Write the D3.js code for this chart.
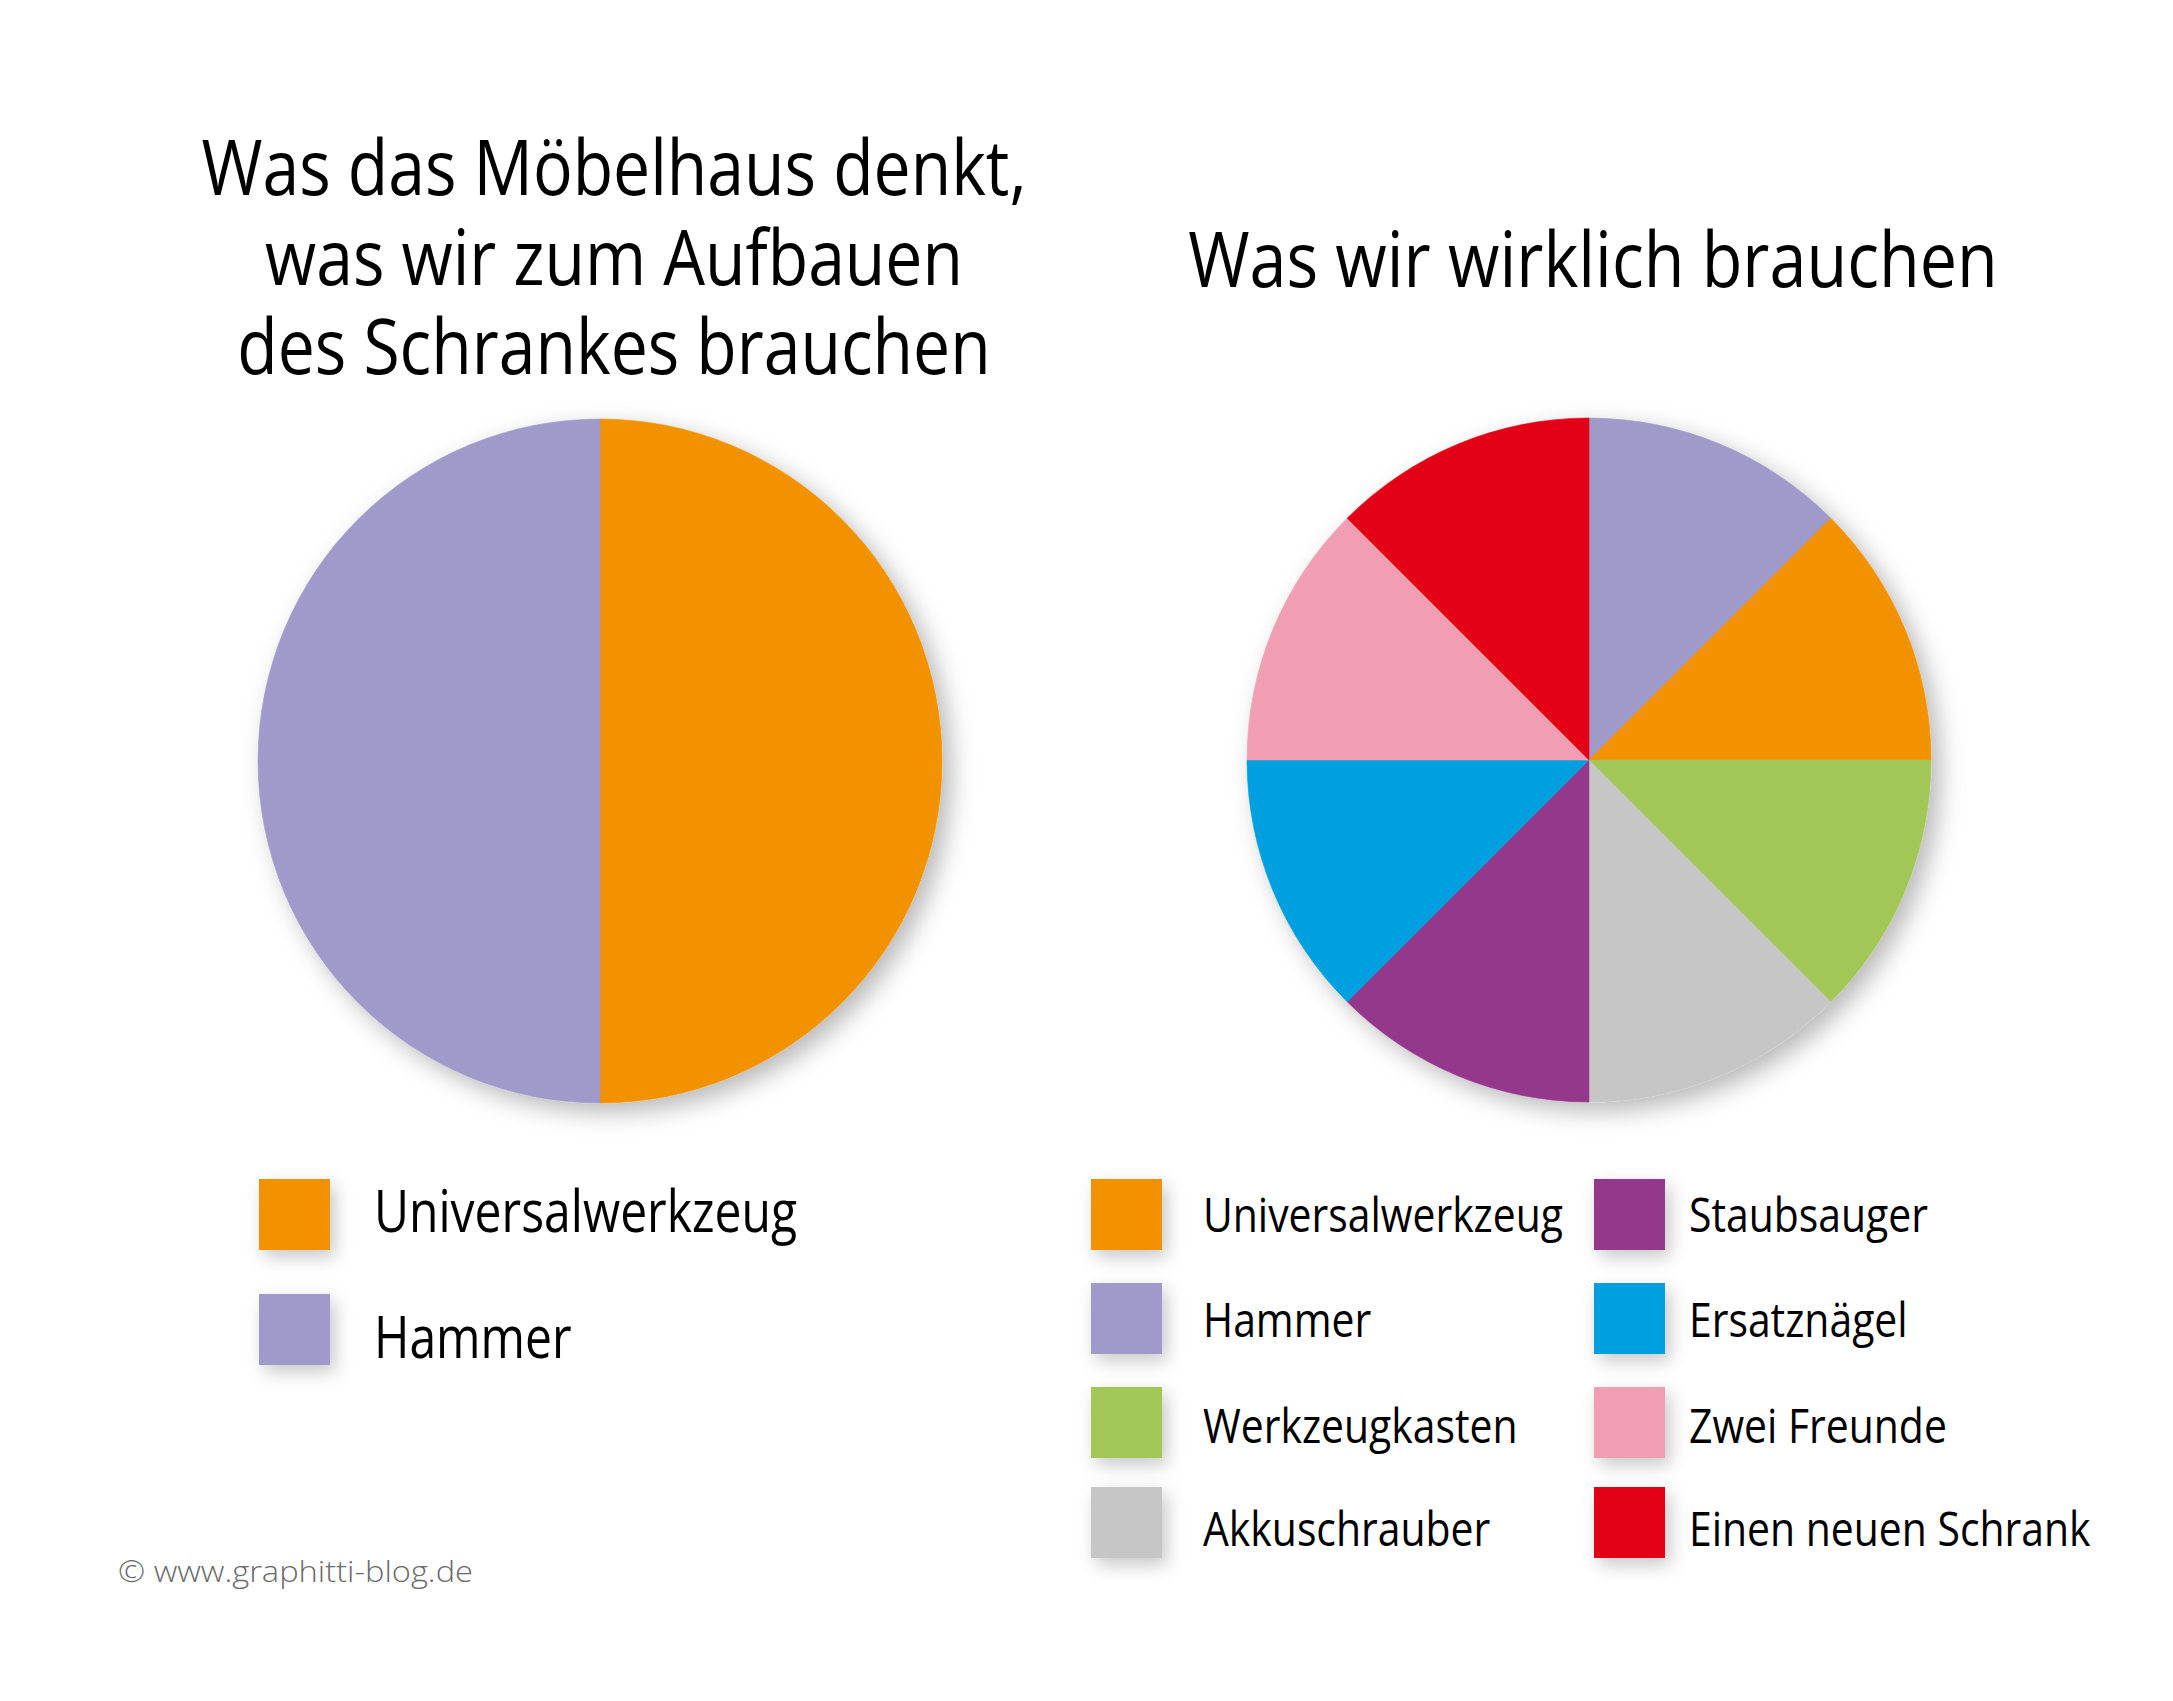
<!DOCTYPE html>
<html><head><meta charset="utf-8">
<script src="https://cdn.jsdelivr.net/npm/d3@7"></script>
<style>body{margin:0;background:#fff}</style>
</head><body>
<script>
// ---- data ----
const leftTitle = ["Was das Möbelhaus denkt,", "was wir zum Aufbauen", "des Schrankes brauchen"];
const rightTitle = ["Was wir wirklich brauchen"];
const leftCategories = ["Universalwerkzeug", "Hammer"];
const leftValues = [1, 1];
const rightCategories = ["Hammer", "Universalwerkzeug", "Werkzeugkasten", "Akkuschrauber",
  "Staubsauger", "Ersatznägel", "Zwei Freunde", "Einen neuen Schrank"];
const rightValues = [1, 1, 1, 1, 1, 1, 1, 1];
const legendLeft = ["Universalwerkzeug", "Hammer"];
const legendRight = ["Universalwerkzeug", "Hammer", "Werkzeugkasten", "Akkuschrauber",
  "Staubsauger", "Ersatznägel", "Zwei Freunde", "Einen neuen Schrank"];
const credit = "© www.graphitti-blog.de";
const palette = ["#F39200", "#A09ACA", "#A3C756", "#C6C6C6", "#93398B", "#009FE0", "#F19DB4", "#E30613"];

// ---- setup ----
const W = 2173, H = 1701;
const FONT = "'Open Sans', 'Noto Sans', sans-serif";
const color = d3.scaleOrdinal().domain(legendRight).range(palette);

const svg = d3.select("body").append("svg").attr("width", W).attr("height", H)
  .style("font-family", FONT);
svg.append("rect").attr("width", W).attr("height", H).attr("fill", "#fff");

const defs = svg.append("defs");
const f1 = defs.append("filter").attr("id", "pieShadow")
  .attr("x", "-20%").attr("y", "-20%").attr("width", "150%").attr("height", "150%");
f1.append("feDropShadow").attr("dx", 9).attr("dy", 9).attr("stdDeviation", 12)
  .attr("flood-color", "#000").attr("flood-opacity", 0.28);
const f2 = defs.append("filter").attr("id", "boxShadow")
  .attr("x", "-60%").attr("y", "-60%").attr("width", "240%").attr("height", "240%");
f2.append("feDropShadow").attr("dx", 5).attr("dy", 7).attr("stdDeviation", 9)
  .attr("flood-color", "#000").attr("flood-opacity", 0.22);

// measure natural width to emulate the narrow original typeface
function naturalWidth(str, size, weight) {
  const t = svg.append("text").attr("font-size", size).attr("font-weight", weight || 400).text(str);
  const w = t.node().getComputedTextLength();
  t.remove();
  return w;
}
function addText(g, str, x, y, size, factor, opts) {
  opts = opts || {};
  const nw = naturalWidth(str, size, opts.weight);
  return g.append("text").attr("x", x).attr("y", y)
    .attr("font-size", size).attr("font-weight", opts.weight || 400)
    .attr("fill", opts.fill || "#000")
    .attr("text-anchor", opts.anchor || "start")
    .attr("textLength", nw * factor).attr("lengthAdjust", "spacingAndGlyphs")
    .text(str);
}

// ---- titles ----
const titleSize = 76;
const titleFactor = 825 / naturalWidth(leftTitle[0], titleSize);
const gT = svg.append("g");
const leftBaselines = [195, 285, 374];
leftTitle.forEach((s, i) => addText(gT, s, 614, leftBaselines[i], titleSize, titleFactor, {anchor: "middle"}));
rightTitle.forEach((s, i) => addText(gT, s, 1593, 287, titleSize, titleFactor * 1.006, {anchor: "middle"}));

// ---- pies ----
const R = 342;
const pie = d3.pie().sort(null).value(d => d.v);
const arc = d3.arc().innerRadius(0).outerRadius(R);

function drawPie(cx, cy, cats, vals) {
  const data = cats.map((c, i) => ({c, v: vals[i]}));
  const g = svg.append("g").attr("transform", `translate(${cx},${cy})`)
    .attr("filter", "url(#pieShadow)");
  g.selectAll("path").data(pie(data)).join("path")
    .attr("d", arc).attr("fill", d => color(d.data.c))
    .attr("stroke", d => color(d.data.c)).attr("stroke-width", 0.6);
}
drawPie(600, 761, leftCategories, leftValues);
drawPie(1589, 760, rightCategories, rightValues);

// ---- legends ----
const SQ = 71;
// left legend
const gL = svg.append("g");
const lSize = 58;
const lFactor = 423 / naturalWidth(legendLeft[0], lSize);
const leftSquareY = [1179, 1294];
const leftTextY = [1232, 1358];
legendLeft.forEach((name, i) => {
  gL.append("rect").attr("x", 259).attr("y", leftSquareY[i]).attr("width", SQ).attr("height", SQ)
    .attr("fill", color(name)).attr("filter", "url(#boxShadow)");
  addText(gL, name, 374, leftTextY[i], lSize, lFactor);
});

// right legend (two columns x four rows)
const gR = svg.append("g");
const rSize = 48;
const rFactor = 360 / naturalWidth(legendRight[0], rSize);
const rowSquareY = [1179, 1283, 1387, 1487];
const rowTextY = [1232, 1337, 1443, 1546];
const colX = [1091, 1594];
const colTextX = [1203, 1689];
legendRight.forEach((name, i) => {
  const col = Math.floor(i / 4), row = i % 4;
  gR.append("rect").attr("x", colX[col]).attr("y", rowSquareY[row]).attr("width", SQ).attr("height", SQ)
    .attr("fill", color(name)).attr("filter", "url(#boxShadow)");
  addText(gR, name, colTextX[col], rowTextY[row], rSize, rFactor);
});

// ---- credit ----
const cSize = 30;
addText(svg, credit, 118, 1582, cSize, 355 / naturalWidth(credit, cSize, 300), {fill: "#6a6a6a", weight: 300});
</script>
</body></html>
